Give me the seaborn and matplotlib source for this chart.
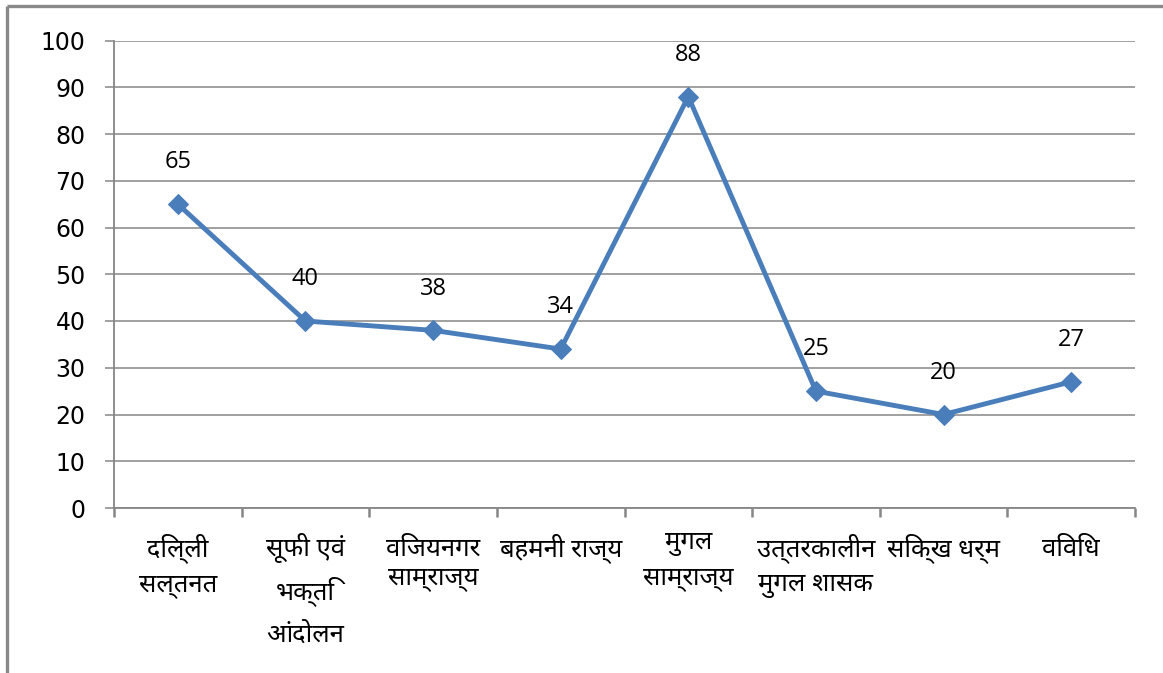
import glob
import matplotlib
matplotlib.use("Agg")
import matplotlib.pyplot as plt
from matplotlib.font_manager import FontProperties
from matplotlib.lines import Line2D
from matplotlib.ticker import FixedLocator
import seaborn as sns
import pandas as pd

# Chart data
categories = [
    "दिल्ली\nसल्तनत",
    "सूफी एवं\nभक्ति\nआंदोलन",
    "विजयनगर\nसाम्राज्य",
    "बहमनी राज्य",
    "मुगल\nसाम्राज्य",
    "उत्तरकालीन\nमुगल शासक",
    "सिक्ख धर्म",
    "विविध",
]
values = [65, 40, 38, 34, 88, 25, 20, 27]
y_ticks = [0, 10, 20, 30, 40, 50, 60, 70, 80, 90, 100]


def find_font(names):
    for name in names:
        hits = sorted(glob.glob("/usr/share/fonts/**/" + name, recursive=True))
        if hits:
            return hits[0]
    return None


deva_file = find_font([
    "NotoSansDevanagariUI-Regular.ttf",
    "NotoSansDevanagari-Regular.ttf",
    "Hind-Regular.ttf",
    "IBMPlexSansDevanagari-Regular.ttf",
])
deva_font = FontProperties(fname=deva_file, size=18.5) if deva_file else FontProperties(size=18.5)

sns.set_theme(style="white")
plt.rcParams["font.family"] = ["DejaVu Sans"]

W, H, DPI = 1163, 673, 100
fig = plt.figure(figsize=(W / DPI, H / DPI), dpi=DPI)
fig.patch.set_facecolor("white")

ax = fig.add_axes([114 / W, 1 - 508 / H, (1135 - 114) / W, (508 - 40.5) / H])

df = pd.DataFrame({"category": categories, "value": values})
line_color = "#4A7EBB"
grid_color = "#868686"

sns.lineplot(data=df, x="category", y="value", sort=False, ax=ax,
             color=line_color, linewidth=3.5, marker="D", markersize=10,
             markeredgecolor=line_color, markerfacecolor=line_color, zorder=3)

ax.set_xlim(-0.5, len(categories) - 0.5)
ax.set_ylim(0, 100)
ax.set_yticks(y_ticks)
ax.yaxis.grid(True, color=grid_color, linewidth=1.1)
ax.xaxis.grid(False)
ax.set_xlabel("")
ax.set_ylabel("")

for side in ("top", "right"):
    ax.spines[side].set_visible(False)
for side in ("left", "bottom"):
    ax.spines[side].set_color(grid_color)
    ax.spines[side].set_linewidth(1.3)

# y ticks
ax.tick_params(axis="y", which="major", direction="out", length=6.5, width=1.1,
               color=grid_color, pad=14, labelsize=17, labelcolor="black", left=True)
for lab in ax.get_yticklabels():
    lab.set_fontfamily("DejaVu Sans")

# x category labels centred, boundary tick marks between categories
ax.set_xticks(range(len(categories)))
ax.set_xticklabels(categories, fontproperties=deva_font, linespacing=1.55, va="top")
ax.tick_params(axis="x", which="major", length=0, pad=18, labelcolor="black", bottom=True)
ax.xaxis.set_minor_locator(FixedLocator([i - 0.5 for i in range(len(categories) + 1)]))
ax.tick_params(axis="x", which="minor", direction="out", length=6.5, width=1.8,
               color=grid_color, bottom=True)

# value labels above each point
for i, v in enumerate(values):
    ax.annotate(str(v), (i, v), xytext=(0, 30), textcoords="offset points",
                ha="center", va="center", fontsize=17, fontfamily="Open Sans",
                color="black")

# outer frame of the chart area
fig.add_artist(Line2D([7 / W, 7 / W], [0, 1 - 6 / H], transform=fig.transFigure,
                      color="#898989", linewidth=2.4, solid_capstyle="butt"))
fig.add_artist(Line2D([7 / W, 1], [1 - 6 / H, 1 - 6 / H], transform=fig.transFigure,
                      color="#898989", linewidth=2.4, solid_capstyle="butt"))

fig.savefig("out.png", dpi=DPI, facecolor="white")
